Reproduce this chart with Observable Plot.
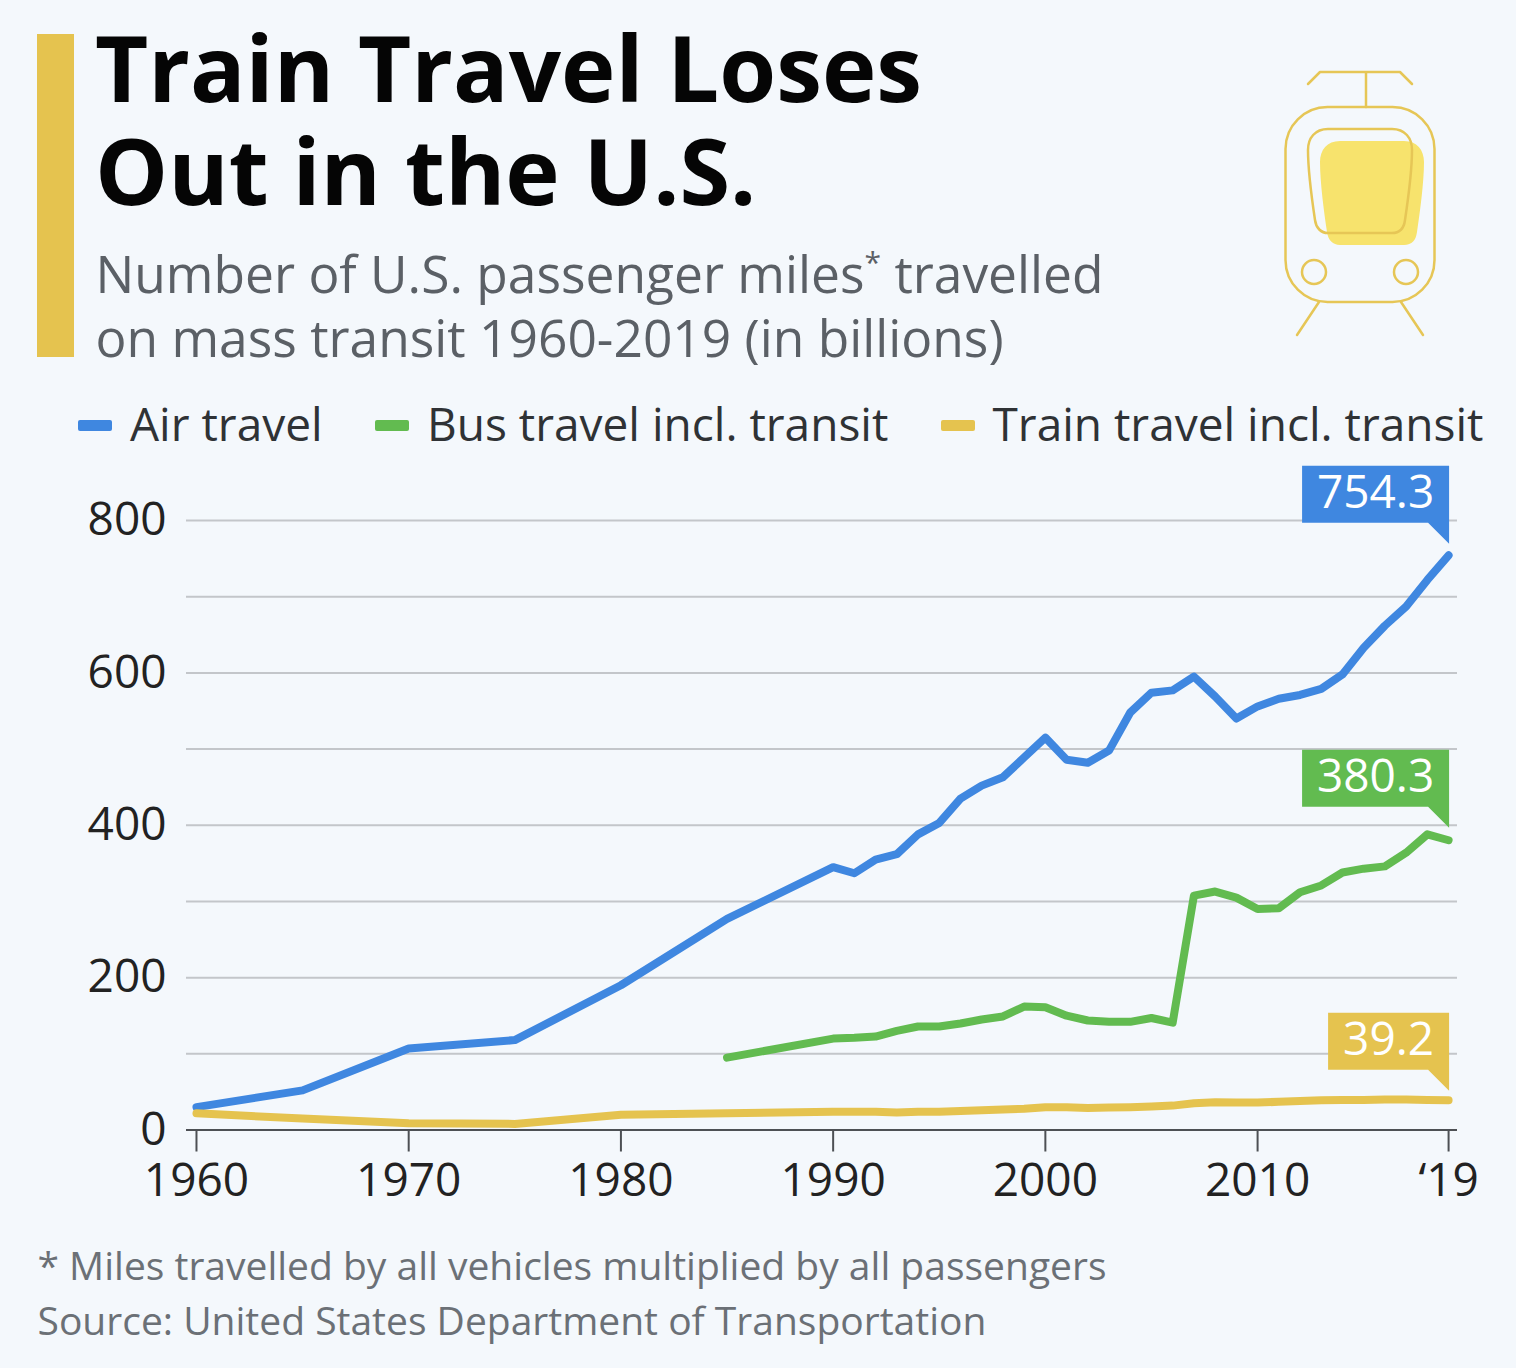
<!DOCTYPE html>
<html lang="en">
<head>
<meta charset="utf-8">
<title>Train Travel Loses Out in the U.S.</title>
<script src="https://cdn.jsdelivr.net/npm/d3@7"></script>
<script src="https://cdn.jsdelivr.net/npm/@observablehq/plot@0.6"></script>
<style>
  html, body { margin: 0; padding: 0; background: #f4f8fc; }
  #page { position: relative; width: 1516px; height: 1368px; overflow: hidden; background: #f4f8fc; font-family: "Open Sans", sans-serif; }
  #page > * { position: absolute; }
  .bar { left: 37px; top: 34px; width: 37px; height: 323px; background: #e5c34f; }
  h1 { margin: 0; left: 95px; top: 15px; font-size: 92px; line-height: 103px; font-weight: 700; color: #050505; white-space: nowrap; }
  .sub { left: 95.5px; top: 241px; font-size: 51.5px; line-height: 64px; color: #5b6066; white-space: nowrap; }
  .sub sup { font-size: 30px; line-height: 0; vertical-align: 20px; }
  .swatch { top: 420px; width: 34px; height: 11px; border-radius: 2px; }
  .legend { top: 391.5px; font-size: 46px; line-height: 62px; color: #2f3235; white-space: nowrap; }
  .foot { left: 37.5px; font-size: 39px; line-height: 50px; color: #6b7076; white-space: nowrap; }
  #chart { left: 0; top: 450px; }
  #chart svg { display: block; }
</style>
</head>
<body>
<div id="page">
  <div class="bar"></div>
  <h1>Train Travel Loses<br>Out in the U.S.</h1>
  <div class="sub">Number of U.S. passenger miles<sup>*</sup> travelled<br>on mass transit 1960-2019 (in billions)</div>

  <svg style="left:0;top:0" width="1516" height="360" fill="none" stroke="#e6c656" stroke-width="2.5" stroke-linecap="round" stroke-linejoin="round">
    <path transform="translate(12,12)" fill="#f7e36d" stroke="none" d="M1328,129 H1392 C1405,129 1412,138 1412,150 C1412,170 1408,200 1405,220 C1404,228 1400,233 1392,233 H1328 C1321,233 1316,228 1315,220 C1312,200 1308,170 1308,150 C1308,138 1315,129 1328,129 Z"/>
    <path d="M1328,129 H1392 C1405,129 1412,138 1412,150 C1412,170 1408,200 1405,220 C1404,228 1400,233 1392,233 H1328 C1321,233 1316,228 1315,220 C1312,200 1308,170 1308,150 C1308,138 1315,129 1328,129 Z"/>
    <path d="M1308,84 L1320,72 H1400 L1412,84 M1366,72 V107"/>
    <rect x="1285.5" y="107" width="149" height="195" rx="42" ry="42"/>
    <circle cx="1314" cy="272" r="12"/>
    <circle cx="1406" cy="272" r="12"/>
    <path d="M1319,302 L1297,335 M1401,302 L1423,335"/>
  </svg>

  <div class="swatch" style="left:78px;background:#3f87e0"></div>
  <div class="legend" style="left:130px">Air travel</div>
  <div class="swatch" style="left:375px;background:#62bb50"></div>
  <div class="legend" style="left:427px">Bus travel incl. transit</div>
  <div class="swatch" style="left:941px;background:#e5c34f"></div>
  <div class="legend" style="left:992.5px">Train travel incl. transit</div>

  <div id="chart"></div>

  <div class="foot" style="top:1240px">* Miles travelled by all vehicles multiplied by all passengers</div>
  <div class="foot" style="top:1295px">Source: United States Department of Transportation</div>
</div>

<script>
const airYears = [1960, 1965, 1970, 1975, 1980, 1985, 1990, 1991, 1992, 1993, 1994, 1995, 1996, 1997, 1998, 1999, 2000, 2001, 2002, 2003, 2004, 2005, 2006, 2007, 2008, 2009, 2010, 2011, 2012, 2013, 2014, 2015, 2016, 2017, 2018, 2019];
const airValues = [30, 52, 107, 118, 190, 277, 345, 337, 355, 362, 388, 403, 435, 452, 463, 489, 515, 486, 482, 498, 548, 574, 577, 595, 569, 540, 556, 566, 571, 579, 598, 633, 662, 687, 722, 754.3];

const busYears = [1985, 1990, 1991, 1992, 1993, 1994, 1995, 1996, 1997, 1998, 1999, 2000, 2001, 2002, 2003, 2004, 2005, 2006, 2007, 2008, 2009, 2010, 2011, 2012, 2013, 2014, 2015, 2016, 2017, 2018, 2019];
const busValues = [95, 120, 121, 122.7, 130, 135.8, 135.8, 139.8, 145, 149, 162, 161, 150, 143.7, 142, 142, 147, 141, 307.7, 313, 305, 290, 291, 312, 321, 338, 343, 346, 364, 388, 380.3];

const trainYears = [1960, 1965, 1970, 1975, 1980, 1985, 1990, 1991, 1992, 1993, 1994, 1995, 1996, 1997, 1998, 1999, 2000, 2001, 2002, 2003, 2004, 2005, 2006, 2007, 2008, 2009, 2010, 2011, 2012, 2013, 2014, 2015, 2016, 2017, 2018, 2019];
const trainValues = [22, 15, 9, 8, 20, 22, 24, 24, 24, 23, 24, 24, 25, 26, 27, 28, 30, 30, 29, 29.5, 30, 31, 32, 35, 36.5, 36, 36, 37, 38, 39, 39.5, 39.5, 40, 40, 39.5, 39.2];

const gridValues = [100, 200, 300, 400, 500, 600, 700, 800];
const yTicks = [0, 200, 400, 600, 800];
const xTicks = [1960, 1970, 1980, 1990, 2000, 2010, 2019];

const toRows = (years, values) => years.map((year, i) => ({year, value: values[i]}));

const BLUE = "#3f87e0", GREEN = "#62bb50", YELLOW = "#e5c34f";

// End-of-line value flags, anchored on the last data point of each series.
const flags = [
  {year: 2019, value: 754.3, fill: BLUE, lift: 32, boxWidth: 147},
  {year: 2019, value: 380.3, fill: GREEN, lift: 33, boxWidth: 147},
  {year: 2019, value: 39.2, fill: YELLOW, lift: 30, boxWidth: 121}
];

function flagMark(index, scales) {
  const g = d3.create("svg:g");
  for (const f of flags) {
    const ax = scales.x(f.year) + 1, ay = scales.y(f.value);
    const bottom = ay - f.lift, top = bottom - 57, left = ax - f.boxWidth;
    g.append("path")
      .attr("fill", f.fill)
      .attr("d", `M${left},${top}H${ax}V${bottom + 21}L${ax - 21},${bottom}H${left}Z`);
    g.append("text")
      .attr("x", left + f.boxWidth / 2)
      .attr("y", top + 26)
      .attr("dy", "0.35em")
      .attr("text-anchor", "middle")
      .attr("fill", "#ffffff")
      .attr("font-size", 46)
      .attr("font-weight", 500)
      .text(String(f.value));
  }
  return g.node();
}

const chart = Plot.plot({
  width: 1516,
  height: 750,
  marginLeft: 186,
  marginRight: 59,
  marginTop: 70,
  marginBottom: 70.5,
  style: {background: "transparent", overflow: "visible", fontFamily: "'Open Sans', sans-serif", color: "#222"},
  x: {domain: [1959.53, 2019.42], label: null},
  y: {domain: [0, 800], label: null},
  marks: [
    Plot.ruleY(gridValues, {stroke: "#c3c6ca", strokeWidth: 2}),
    Plot.ruleY([0], {stroke: "#4d5054", strokeWidth: 2}),
    Plot.axisY({ticks: yTicks, tickSize: 0, tickPadding: 20, fontSize: 46, label: null, fill: "#222"}),
    Plot.axisX({ticks: xTicks, tickSize: 22, tickPadding: 11, fontSize: 46, label: null, stroke: "#4d5054", strokeWidth: 2, fill: "#222",
      tickFormat: d => d === 2019 ? "\u201819" : String(d)}),
    Plot.line(toRows(airYears, airValues), {x: "year", y: "value", stroke: BLUE, strokeWidth: 8, strokeLinecap: "round", strokeLinejoin: "round"}),
    Plot.line(toRows(busYears, busValues), {x: "year", y: "value", stroke: GREEN, strokeWidth: 8, strokeLinecap: "round", strokeLinejoin: "round"}),
    Plot.line(toRows(trainYears, trainValues), {x: "year", y: "value", stroke: YELLOW, strokeWidth: 8, strokeLinecap: "round", strokeLinejoin: "round"}),
    flagMark
  ]
});
document.getElementById("chart").append(chart);
</script>
</body>
</html>
